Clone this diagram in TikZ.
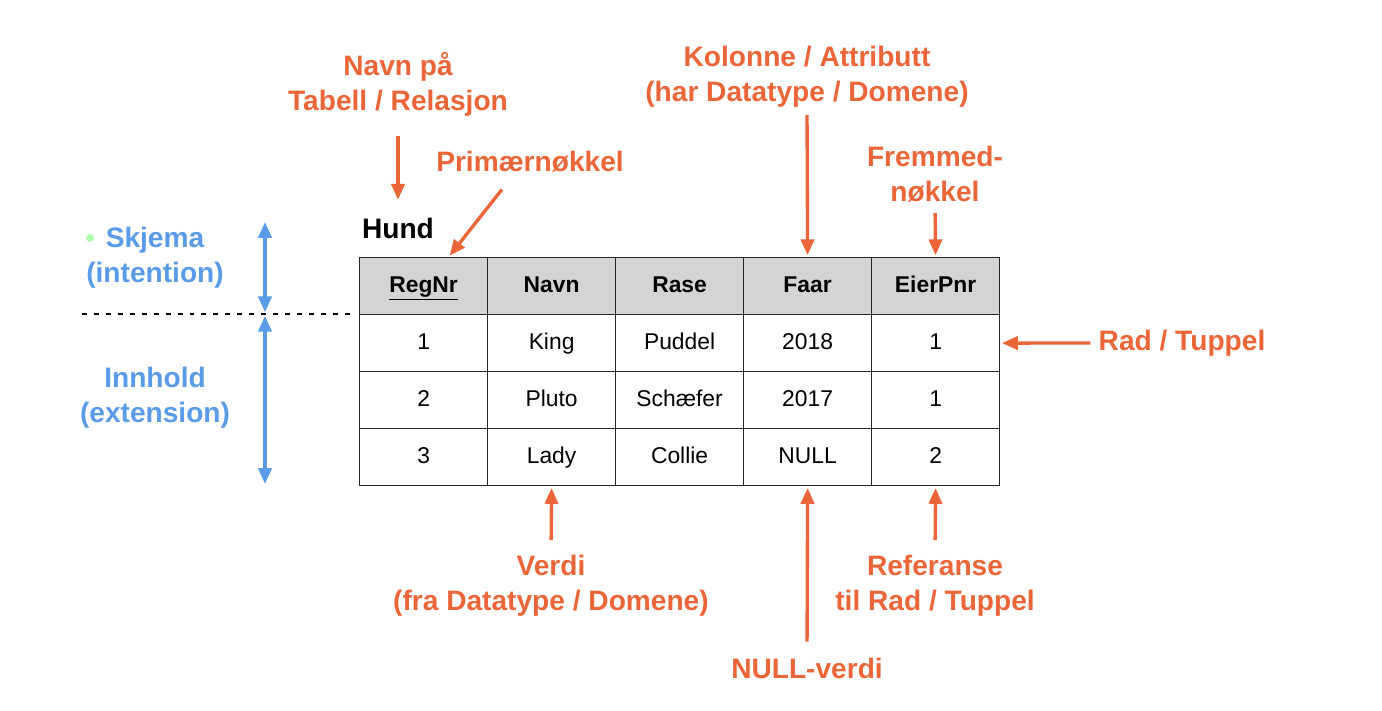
\documentclass[tikz,border=0pt]{standalone}
\usepackage{fontspec}
\setmainfont{Liberation Sans}
\usetikzlibrary{arrows.meta,positioning,calc}
\definecolor{notered}{RGB}{234,102,56}
\definecolor{levelblue}{RGB}{90,155,232}
\definecolor{headgray}{RGB}{212,212,212}

\begin{document}
\begin{tikzpicture}[x=0.02cm, y=-0.02cm, >={Triangle[length=9pt,width=7.5pt]},
  note/.style={font=\fontsize{16}{20}\selectfont\bfseries, text=notered, align=center, inner sep=0pt},
  level/.style={note, text=levelblue},
  ptr/.style={->, line width=1.9pt, draw=notered},
  levelspan/.style={<->, line width=1.8pt, draw=levelblue},
  cell/.style={draw=black!85, line width=0.7pt, minimum width=2.56cm, minimum height=1.14cm, anchor=north west, inner sep=0pt,
    text height=9.4pt, text depth=2.6pt, font=\fontsize{13}{15}\selectfont},
  headcell/.style={cell, fill=headgray, font=\fontsize{13}{15}\selectfont\bfseries}]
        \useasboundingbox (0,0) rectangle (1382,710);

        % Table: header row and three rows
        \foreach \val [count=\c from 0] in {\underline{RegNr}, Navn, Rase, Faar, EierPnr} {
            \node[headcell] (c-0-\c) at (359+128*\c, 257) {\val};
        }
        \foreach \row [count=\r] in {{1,King,Puddel,2018,1}, {2,Pluto,Schæfer,2017,1}, {3,Lady,Collie,NULL,2}} {
            \foreach \val [count=\c from 0] in \row {
                \node[cell] (c-\r-\c) at (359+128*\c, 257+57*\r) {\val};
            }
        }
        \node[font=\fontsize{16}{20}\selectfont\bfseries, inner sep=0pt] (hund) at (398, 228) {Hund};

        % Labels above
        \node[note] (tabel) at (398, 84) {Navn på\\Tabell / Relasjon};
        \node[note] (prim) at (530, 162) {Primærnøkkel};
        \node[note] (kolonne) at (807, 77) {Kolonne / Attributt\\(har Datatype / Domene)};
        \node[note] (fremmed) at (935, 174) {Fremmed-\\nøkkel};
        \draw[ptr, shorten <=11pt, shorten >=10pt] (tabel.south) -- (hund.north);
        \draw[ptr, shorten <=12pt, shorten >=1pt] ([xshift=-0.3cm]prim.south) -- ([xshift=0.5cm]c-0-0.north);
        \draw[ptr, shorten <=4pt, shorten >=1pt] (kolonne.south) -- (c-0-3.north);
        \draw[ptr, shorten <=6pt, shorten >=1pt] (fremmed.south) -- (c-0-4.north);

        % Labels right and below
        \node[note] (radtuppel) at (1182, 343) {Rad / Tuppel};
        \node[note] (verdi) at (551, 586) {Verdi\\(fra Datatype / Domene)};
        \node[note] (nullverdi) at (807, 668) {NULL-verdi};
        \node[note] (referanse) at (935, 586) {Referanse\\til Rad / Tuppel};
        \draw[ptr, shorten <=4.5pt, shorten >=1pt] (radtuppel.west) -- (c-1-4.east);
        \draw[ptr, shorten <=8.5pt, shorten >=1pt] (verdi.north) -- (c-3-1.south);
        \draw[ptr, shorten <=9pt, shorten >=1pt] (nullverdi.north) -- (c-3-3.south);
        \draw[ptr, shorten <=8.5pt, shorten >=1pt] (referanse.north) -- (c-3-4.south);

        % Schema / content split on the left
        \node[level] (skjema) at (155, 258) {Skjema\\(intention)};
        \node[level] (innhold) at (155, 398) {Innhold\\(extension)};
        \fill[green!55!white, opacity=0.6] (90, 238) circle (2.2pt);
        \coordinate (skjtop) at (265, 222);
        \coordinate (cut) at (265, 314);
        \coordinate (innbot) at (265, 484);
        \coordinate (dotstart) at (82, 314);
        \draw[line width=1.2pt, dash pattern=on 2.8pt off 4pt] (dotstart) -- ([xshift=-0.08cm]c-1-0.north west);
        \draw[levelspan, shorten >=1pt] (skjtop) -- (cut);
        \draw[levelspan, shorten <=1pt] (cut) -- (innbot);
    \end{tikzpicture}
\end{document}
